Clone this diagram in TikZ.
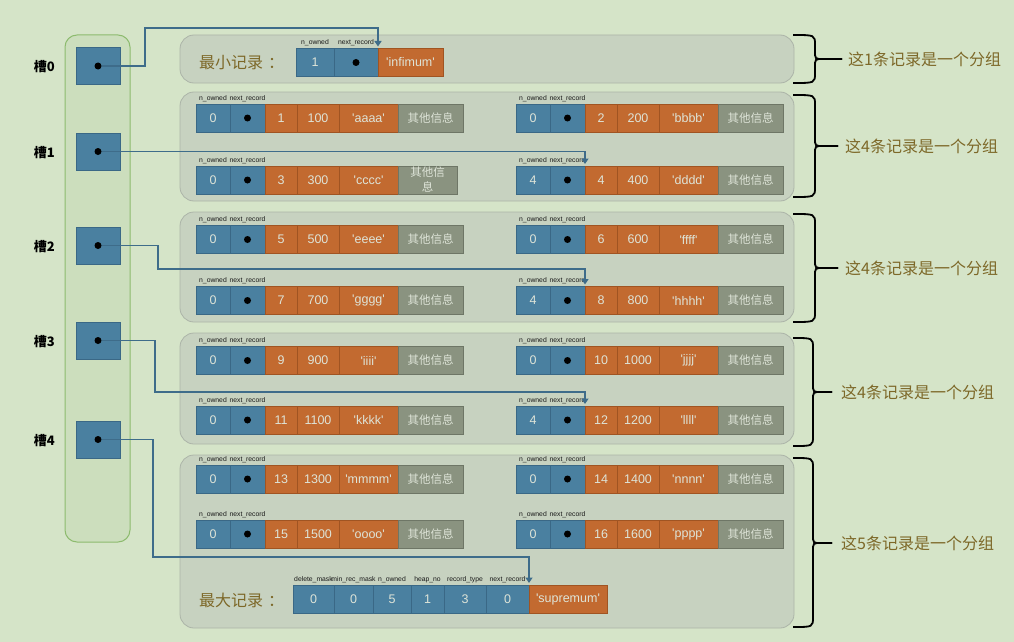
\documentclass[tikz,border=0pt]{standalone}
\usepackage{fontspec}
\setmainfont{Liberation Sans}
\newfontfamily\cjk{Noto Sans CJK SC}
\usetikzlibrary{arrows.meta}
\definecolor{bg}{RGB}{213,228,200}
\definecolor{colfill}{RGB}{204,222,189}
\definecolor{coldraw}{RGB}{141,187,110}
\definecolor{grpfill}{RGB}{199,210,192}
\definecolor{grpdraw}{RGB}{172,180,168}
\definecolor{bluec}{RGB}{74,128,160}
\definecolor{blued}{RGB}{58,104,134}
\definecolor{orangec}{RGB}{194,106,48}
\definecolor{oranged}{RGB}{160,84,34}
\definecolor{grayc}{RGB}{138,147,128}
\definecolor{grayd}{RGB}{110,118,102}
\definecolor{celltext}{RGB}{222,228,216}
\definecolor{olive}{RGB}{125,104,40}
\definecolor{arrowc}{RGB}{62,108,138}
\newcommand\qt[1]{\textquotesingle#1\textquotesingle}
\tikzset{
 cell/.style={draw, line width=0.8pt, minimum height=28, inner sep=0pt, outer sep=0pt, text=celltext, font=\fontsize{12.5}{14}\selectfont},
 bcell/.style={cell, fill=bluec, draw=blued},
 ocell/.style={cell, fill=orangec, draw=oranged},
 gcell/.style={cell, fill=grayc, draw=grayd, align=center, font=\cjk\fontsize{11.5}{15}\selectfont},
 lab/.style={inner sep=0pt, font=\fontsize{6.8}{7}\selectfont, text=black!90},
 dotn/.style={circle, fill=black, inner sep=0pt, minimum size=7},
 grp/.style={draw=grpdraw, fill=grpfill, rounded corners=14, line width=0.8pt, inner sep=0pt},
 grptext/.style={font=\cjk\fontsize{16}{18}\selectfont, text=olive, anchor=west, inner sep=0pt},
 slotbox/.style={draw=blued, fill=bluec, minimum width=44, minimum height=37, line width=0.8pt, inner sep=0pt},
 slotlab/.style={font=\cjk\bfseries\fontsize{13}{15}\selectfont, inner sep=0pt},
 arr/.style={draw=arrowc, line width=1.9pt, -{Triangle[width=7pt,length=5.5pt]}},
 bracepath/.style={draw=black, line width=1.8pt},
}
\newcommand\rec[9]{%
 \node[bcell, minimum width=34, anchor=west] (#1o) at (#2,#3) {#4};
 \node[bcell, minimum width=35, anchor=west] (#1n) at (#1o.east) {};
 \node[dotn] (#1d) at (#1n.center) {};
 \node[ocell, minimum width=32, anchor=west] (#1k) at (#1n.east) {#5};
 \node[ocell, minimum width=42, anchor=west] (#1v) at (#1k.east) {#6};
 \node[ocell, minimum width=59, anchor=west] (#1s) at (#1v.east) {\qt{#7}};
 \node[gcell, minimum width=#9, anchor=west] (#1g) at (#1s.east) {#8};
 \node[lab, anchor=south] (#1lo) at ([yshift=2pt]#1o.north) {n\_owned};
 \node[lab, anchor=south] (#1ln) at ([yshift=2pt]#1n.north) {next\_record};
}
\newcommand\grpbrace[5]{% top bottom middle x tip
 \draw[bracepath] (793,#1) .. controls (#4,#1) .. (#4,#1+10) -- (#4,#3-8)
   .. controls (#4,#3) .. (#4+8,#3) -- (#5,#3);
 \draw[bracepath] (#5,#3) -- (#4+8,#3) .. controls (#4,#3) .. (#4,#3+8)
   -- (#4,#2-10) .. controls (#4,#2) .. (793,#2);
}
\begin{document}
\begin{tikzpicture}[x=1pt,y=-1pt]
\fill[bg] (0,0) rectangle (1014,642);
\useasboundingbox (0,0) rectangle (1014,642);

% slot column
\node[draw=coldraw, fill=colfill, rounded corners=12, line width=1pt, minimum width=65, minimum height=507, inner sep=0pt] (col) at (97.5,288.5) {};
\foreach \i/\y in {0/66,1/151.5,2/245.5,3/340.5,4/439.5}{
  \node[slotbox] (s\i) at (98,\y) {};
  \node[dotn] (d\i) at (s\i.center) {};
  \node[slotlab, anchor=east] (l\i) at (55,\y+1) {槽\i};
}

% groups
\node[grp, minimum width=614, minimum height=48] (g0) at (487,59) {};
\node[grp, minimum width=614, minimum height=109] (g1) at (487,146.5) {};
\node[grp, minimum width=614, minimum height=110] (g2) at (487,267) {};
\node[grp, minimum width=614, minimum height=111] (g3) at (487,388.5) {};
\node[grp, minimum width=614, minimum height=173] (g4) at (487,541.5) {};

% infimum
\node[grptext] (minlab) at (199,63) {最小记录\hspace{5pt}：};
\node[bcell, minimum width=38, anchor=west] (io) at (296,62.5) {1};
\node[bcell, minimum width=44, anchor=west] (in) at (io.east) {};
\node[dotn] (ind) at (in.center) {};
\node[ocell, minimum width=65, anchor=west] (is) at (in.east) {\qt{infimum}};
\node[lab, anchor=south] (ilo) at ([yshift=2pt]io.north) {n\_owned};
\node[lab, anchor=south] (iln) at ([yshift=2pt]in.north) {next\_record};

% records
\rec{r1}{196}{118}{0}{1}{100}{aaaa}{其他信息}{65}
\rec{r2}{516}{118}{0}{2}{200}{bbbb}{其他信息}{65}
\rec{r3}{196}{180}{0}{3}{300}{cccc}{其他信\\息}{59}
\rec{r4}{516}{180}{4}{4}{400}{dddd}{其他信息}{65}
\rec{r5}{196}{239.5}{0}{5}{500}{eeee}{其他信息}{65}
\rec{r6}{516}{239.5}{0}{6}{600}{ffff}{其他信息}{65}
\rec{r7}{196}{300.5}{0}{7}{700}{gggg}{其他信息}{65}
\rec{r8}{516}{300.5}{4}{8}{800}{hhhh}{其他信息}{65}
\rec{r9}{196}{360.5}{0}{9}{900}{iiii}{其他信息}{65}
\rec{r10}{516}{360.5}{0}{10}{1000}{jjjj}{其他信息}{65}
\rec{r11}{196}{420}{0}{11}{1100}{kkkk}{其他信息}{65}
\rec{r12}{516}{420}{4}{12}{1200}{llll}{其他信息}{65}
\rec{r13}{196}{479}{0}{13}{1300}{mmmm}{其他信息}{65}
\rec{r14}{516}{479}{0}{14}{1400}{nnnn}{其他信息}{65}
\rec{r15}{196}{534}{0}{15}{1500}{oooo}{其他信息}{65}
\rec{r16}{516}{534}{0}{16}{1600}{pppp}{其他信息}{65}

% supremum
\node[grptext] (maxlab) at (199,600) {最大记录\hspace{5pt}：};
\node[bcell, minimum width=41, anchor=west] (sa) at (293,599) {0};
\node[bcell, minimum width=39, anchor=west] (sb) at (sa.east) {0};
\node[bcell, minimum width=38, anchor=west] (sc) at (sb.east) {5};
\node[bcell, minimum width=33, anchor=west] (sd) at (sc.east) {1};
\node[bcell, minimum width=42, anchor=west] (se) at (sd.east) {3};
\node[bcell, minimum width=43, anchor=west] (sn) at (se.east) {0};
\node[ocell, minimum width=78, anchor=west] (ss) at (sn.east) {\qt{supremum}};
\node[lab, anchor=south] (sla) at ([yshift=2pt]sa.north) {delete\_mask};
\node[lab, anchor=south] (slb) at ([yshift=2pt]sb.north) {min\_rec\_mask};
\node[lab, anchor=south] (slc) at ([yshift=2pt]sc.north) {n\_owned};
\node[lab, anchor=south] (sld) at ([yshift=2pt]sd.north) {heap\_no};
\node[lab, anchor=south] (sle) at ([yshift=2pt]se.north) {record\_type};
\node[lab, anchor=south] (sln) at ([yshift=2pt]sn.north) {next\_record};

% slot pointers
\draw[arr] (d0.east) -| (145,28) -| ([yshift=2pt]in.north east);
\draw[arr] (d1.east) -| ([yshift=2pt]r4n.north east);
\draw[arr] (d2.east) -| (158,269) -| ([yshift=2pt]r8n.north east);
\draw[arr] (d3.east) -| (155,392) -| ([yshift=2pt]r12n.north east);
\draw[arr] (d4.east) -| (153,557) -| ([yshift=2pt]sn.north east);

% braces
\grpbrace{35}{83}{59}{815}{842}
\grpbrace{95}{197}{146}{815}{838}
\grpbrace{214}{322}{268}{815}{838}
\grpbrace{338}{446}{392}{813}{832}
\grpbrace{458}{627}{543}{813}{832}

\node[grptext] (t0) at (848,59) {这1条记录是一个分组};
\node[grptext] (t1) at (845,146) {这4条记录是一个分组};
\node[grptext] (t2) at (845,268) {这4条记录是一个分组};
\node[grptext] (t3) at (841,392) {这4条记录是一个分组};
\node[grptext] (t4) at (841,543) {这5条记录是一个分组};
\end{tikzpicture}
\end{document}
